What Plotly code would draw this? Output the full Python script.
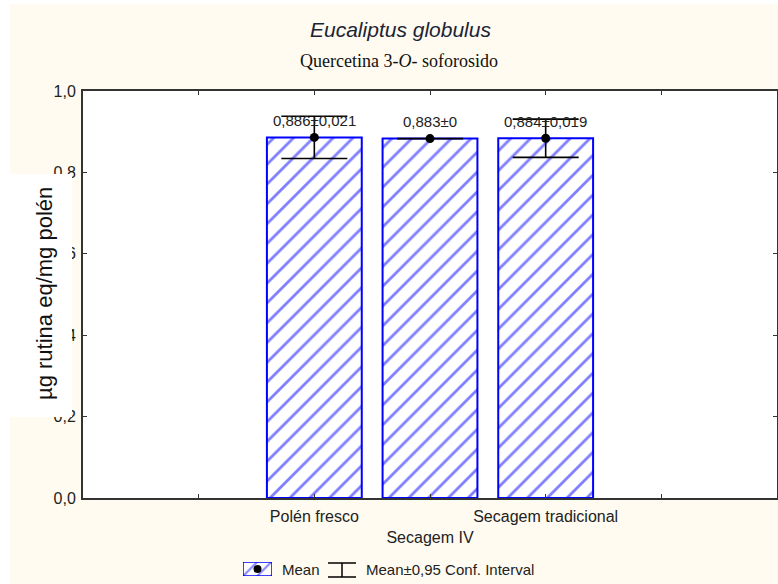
import plotly.graph_objects as go

# data
categories = ["Polén fresco", "Secagem IV", "Secagem tradicional"]
means = [0.886, 0.883, 0.884]
sds = [0.021, 0.0, 0.019]
ci95 = [0.052, 0.0, 0.047]
y_ticks = [0.0, 0.2, 0.4, 0.6, 0.8, 1.0]

W, H = 778, 584
# plot area in pixels
L, R, T, B = 83, 777, 91, 498


def px_x(v):
    return v / W


def px_y(v):
    return 1 - v / H


def fmt(v):
    s = f"{v:.3f}".rstrip("0").rstrip(".")
    return s.replace(".", ",") if s else "0"


BLUE = "#0000ff"
TXT = "#222222"
FONT = "Liberation Sans"

xpos = [1, 2, 3]
hatch = dict(shape="/", fgcolor=BLUE, bgcolor="white", size=14, solidity=0.2)

fig = go.Figure()
fig.add_trace(go.Bar(
    x=xpos, y=means, width=0.82,
    marker=dict(color="white", line=dict(color=BLUE, width=2), pattern=hatch),
    showlegend=False, hoverinfo="skip",
))
fig.add_trace(go.Scatter(
    x=xpos, y=means, mode="markers",
    marker=dict(color="black", size=9),
    error_y=dict(type="data", array=ci95, visible=True, color="black", thickness=1.6, width=33),
    showlegend=False,
))

# legend icon: hatched box with mean dot, drawn on a small inset axis
fig.add_trace(go.Bar(
    x=[0], y=[1], width=1, xaxis="x2", yaxis="y2",
    marker=dict(color="white", line=dict(color=BLUE, width=1.5),
                pattern=dict(shape="/", fgcolor=BLUE, bgcolor="white", size=10, solidity=0.2)),
    showlegend=False, hoverinfo="skip",
))
fig.add_trace(go.Scatter(
    x=[0], y=[0.5], xaxis="x2", yaxis="y2", mode="markers",
    marker=dict(color="black", size=8), showlegend=False, hoverinfo="skip",
))

annotations = []
for x, m, s in zip(xpos, means, sds):
    annotations.append(dict(
        x=x, y=m, xref="x", yref="y", text=f"{fmt(m)}±{fmt(s)}",
        showarrow=False, yshift=17, font=dict(family=FONT, size=15, color=TXT),
    ))


def paper_note(x, y, text, font, xanchor="center", **kw):
    return dict(x=px_x(x), y=px_y(y), xref="paper", yref="paper", text=text,
                showarrow=False, xanchor=xanchor, yanchor="middle", font=font, **kw)


annotations += [
    paper_note(400, 30, "<i>Eucaliptus globulus</i>",
               dict(family=FONT, size=21, color="#1b2436")),
    paper_note(399, 61, "Quercetina 3-<i>O</i>- soforosido",
               dict(family="Liberation Serif", size=18, color="#111111")),
    paper_note(44, 294, "µg rutina eq/mg polén",
               dict(family=FONT, size=22, color="#111111"), textangle=-90),
    paper_note(280, 569, "Mean", dict(family=FONT, size=15, color=TXT), xanchor="left"),
    paper_note(364, 569, "Mean±0,95 Conf. Interval",
               dict(family=FONT, size=15, color=TXT), xanchor="left"),
]

shapes = [
    # white margin strips outside the dotted background
    dict(type="rect", xref="paper", yref="paper", x0=0, x1=px_x(10), y0=0, y1=1,
         fillcolor="white", line=dict(width=0), layer="below"),
    dict(type="rect", xref="paper", yref="paper", x0=0, x1=1, y0=px_y(4), y1=1,
         fillcolor="white", line=dict(width=0), layer="below"),
    # white box behind the y title
    dict(type="rect", xref="paper", yref="paper", x0=px_x(10), x1=px_x(72),
         y0=px_y(417), y1=px_y(174), fillcolor="white", line=dict(width=0), layer="above"),
    # legend I-beam icon
    dict(type="line", xref="paper", yref="paper", x0=px_x(328), x1=px_x(356),
         y0=px_y(563), y1=px_y(563), line=dict(color="black", width=1.5)),
    dict(type="line", xref="paper", yref="paper", x0=px_x(328), x1=px_x(356),
         y0=px_y(577), y1=px_y(577), line=dict(color="black", width=1.5)),
    dict(type="line", xref="paper", yref="paper", x0=px_x(342), x1=px_x(342),
         y0=px_y(563), y1=px_y(577), line=dict(color="black", width=1.5)),
]

fig.update_layout(
    width=W, height=H,
    margin=dict(l=0, r=0, t=0, b=0, pad=0, autoexpand=False),
    paper_bgcolor="#fffbf0", plot_bgcolor="white",
    separators=",.",
    font=dict(family=FONT, size=16, color=TXT),
    showlegend=False,
    xaxis=dict(
        domain=[px_x(L), px_x(R)], range=[-1, 5],
        tickvals=[0, 1, 2, 3, 4],
        ticktext=["", categories[0], "<br>" + categories[1], categories[2], ""],
        tickangle=0, automargin=False, ticklabelstandoff=3,
        ticks="inside", ticklen=4, tickcolor="#333", mirror="ticks",
        showline=True, linecolor="#333", linewidth=2, showgrid=False, zeroline=False,
        tickfont=dict(family=FONT, size=16, color=TXT),
    ),
    yaxis=dict(
        domain=[px_y(B), px_y(T)], range=[0, 1],
        tickvals=y_ticks, tickformat=".1f", automargin=False,
        ticks="inside", ticklen=4, tickcolor="#333", mirror="ticks",
        showline=True, linecolor="#333", linewidth=2, showgrid=False, zeroline=False,
        tickfont=dict(family=FONT, size=16, color=TXT), ticklabelstandoff=2,
    ),
    xaxis2=dict(domain=[px_x(243), px_x(272)], range=[-0.5, 0.5], anchor="y2",
                visible=False, fixedrange=True),
    yaxis2=dict(domain=[px_y(576), px_y(562)], range=[0, 1], anchor="x2",
                visible=False, fixedrange=True),
    annotations=annotations,
    shapes=shapes,
)

fig.write_html("out.html", config={"displayModeBar": False},
               post_script="document.body.style.margin = '0';")
